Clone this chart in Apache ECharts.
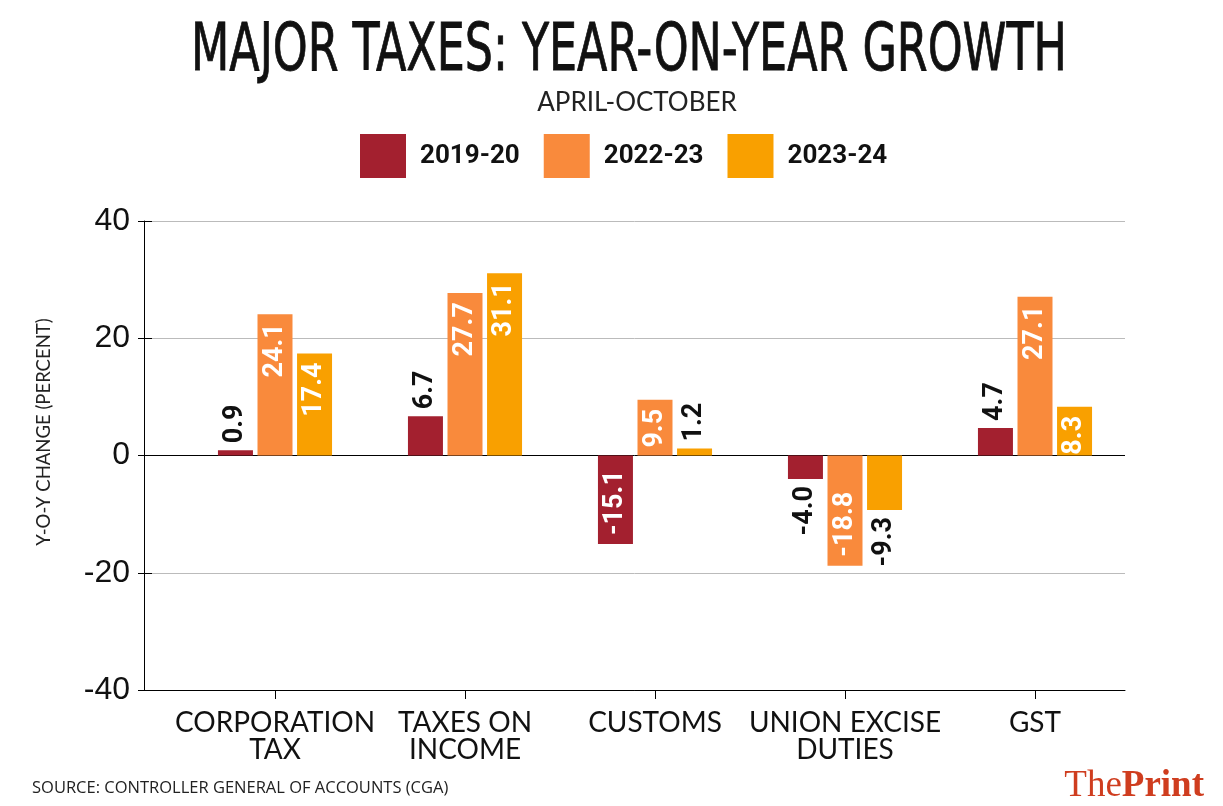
<!DOCTYPE html>
<html>
<head>
<meta charset="utf-8">
<script src="https://cdn.jsdelivr.net/npm/echarts@6/dist/echarts.min.js"></script>
<style>
html,body{margin:0;padding:0;background:#fff;}
#chart{width:1223px;height:806px;}
</style>
</head>
<body>
<div id="chart"></div>
<script>
// ---- data ----
const categories = ['CORPORATION\nTAX', 'TAXES ON\nINCOME', 'CUSTOMS', 'UNION EXCISE\nDUTIES', 'GST'];
const seriesNames = ['2019-20', '2022-23', '2023-24'];
const values2019 = [0.9, 6.7, -15.1, -4.0, 4.7];
const values2022 = [24.1, 27.7, 9.5, -18.8, 27.1];
const values2023 = [17.4, 31.1, 1.2, -9.3, 8.3];
const yMin = -40, yMax = 40, yStep = 20;
// which value labels sit outside their bar (as in the reference)
const outside2019 = [true, true, false, true, true];
const outside2022 = [false, false, false, false, false];
const outside2023 = [false, false, true, true, false];

const colors = ['#a3202f', '#f98a3c', '#f9a000'];
const allValues = [values2019, values2022, values2023];
const allOutside = [outside2019, outside2022, outside2023];

function mkLabel(v, out) {
  const pos = out ? 'outside' : (v >= 0 ? 'insideTop' : 'insideBottom');
  let align;
  if (v >= 0) align = out ? 'left' : 'right';
  else align = out ? 'right' : 'left';
  return {
    show: true, position: pos, rotate: 90, align: align, verticalAlign: 'middle',
    distance: out ? 7 : 9,
    color: out ? '#111' : '#fff',
    fontSize: 27, fontWeight: 'bold', fontFamily: 'Roboto',
    formatter: function (p) { return Number(p.value).toFixed(1); }
  };
}

const series = seriesNames.map(function (name, si) {
  return {
    name: name, type: 'bar', xAxisIndex: 1, yAxisIndex: 2,
    barWidth: 35, barGap: '13%',
    itemStyle: { color: colors[si] },
    data: allValues[si].map(function (v, i) {
      return { value: v, label: mkLabel(v, allOutside[si][i]) };
    })
  };
});

// title: condensed look obtained by horizontal scaling of the text
const titleText = 'MAJOR TAXES: YEAR-ON-YEAR GROWTH';
const titleFont = "'DejaVu Sans Condensed', 'DejaVu Sans', sans-serif";
const titleSize = 66;
const ctx = document.createElement('canvas').getContext('2d');
ctx.font = 'normal ' + titleSize + 'px ' + titleFont;
const titleW = ctx.measureText(titleText).width;
const titleScaleX = 876 / titleW;

const chart = echarts.init(document.getElementById('chart'), null, { renderer: 'canvas' });
chart.setOption({
  animation: false,
  backgroundColor: '#fff',
  color: colors,
  legend: {
    data: seriesNames, left: 360, top: 134, padding: 0,
    itemWidth: 46, itemHeight: 44, itemGap: 24, icon: 'rect',
    selectedMode: false,
    textStyle: { fontSize: 26, fontWeight: 'bold', fontFamily: 'Roboto', color: '#111', padding: [0, 0, 0, 9] }
  },
  grid: [
    { left: 144, right: 98, top: 221, bottom: 116 },
    { left: 180, right: 93, top: 221, bottom: 116 }
  ],
  xAxis: [
    { gridIndex: 0, type: 'value', min: 0, max: 1, position: 'bottom',
      axisLine: { show: true, onZero: false, lineStyle: { color: '#000', width: 1 } },
      axisTick: { show: false }, axisLabel: { show: false }, splitLine: { show: false } },
    { gridIndex: 1, type: 'category', data: categories, position: 'bottom',
      axisLine: { show: false, onZero: false },
      axisTick: { show: true, alignWithLabel: true, length: 9, lineStyle: { color: '#000' } },
      axisLabel: { interval: 0, margin: 19, fontSize: 28, lineHeight: 27, fontFamily: 'Lato', color: '#111' },
      splitLine: { show: false } }
  ],
  yAxis: [
    { gridIndex: 0, type: 'value', min: yMin, max: yMax, interval: yStep, position: 'left',
      axisLine: { show: true, onZero: false, lineStyle: { color: '#000', width: 1 } },
      axisTick: { show: true, length: 6, lineStyle: { color: '#000' } },
      axisLabel: { margin: 14, fontSize: 32, fontFamily: 'Liberation Sans', color: '#111' },
      splitLine: { show: true, lineStyle: { color: ['#000', '#bbb', '#000', '#bbb', '#bbb'], width: 1 } } },
    { gridIndex: 0, type: 'value', min: yMin, max: yMax, interval: yStep, position: 'left',
      axisLine: { show: false, onZero: false },
      axisTick: { show: true, inside: true, length: 8, lineStyle: { color: '#000' } },
      axisLabel: { show: false }, splitLine: { show: false } },
    { gridIndex: 1, type: 'value', min: yMin, max: yMax, interval: yStep, show: false }
  ],
  series: series,
  graphic: [
    { type: 'text', x: 629, y: 53, scaleX: titleScaleX, scaleY: 1,
      style: { text: titleText, align: 'center', verticalAlign: 'middle',
        fontSize: titleSize, fontWeight: 'normal', fontFamily: titleFont, fill: '#111',
        stroke: '#111', lineWidth: 0.8 } },
    { type: 'text', x: 637, y: 103, style: { text: 'APRIL-OCTOBER', align: 'center', verticalAlign: 'middle',
        fontSize: 26, fontFamily: 'Lato', fill: '#222' } },
    { type: 'text', x: 44, y: 432, rotation: Math.PI / 2, style: { text: 'Y-O-Y CHANGE (PERCENT)', align: 'center', verticalAlign: 'middle',
        fontSize: 18.5, fontFamily: 'Lato', fill: '#222' } },
    { type: 'text', x: 32, y: 788, style: { text: 'SOURCE: CONTROLLER GENERAL OF ACCOUNTS (CGA)', align: 'left', verticalAlign: 'middle',
        fontSize: 16.5, fontFamily: 'Open Sans', fill: '#222' } },
    { type: 'text', x: 1204, y: 786, style: { text: '{a|The}{b|Print}', align: 'right', verticalAlign: 'middle',
        rich: { a: { fontSize: 37, fontFamily: 'Liberation Serif', fill: '#cf3d1f' },
                b: { fontSize: 37, fontFamily: 'Liberation Serif', fontWeight: 'bold', fill: '#cf3d1f' } } } }
  ]
});
</script>
</body>
</html>
